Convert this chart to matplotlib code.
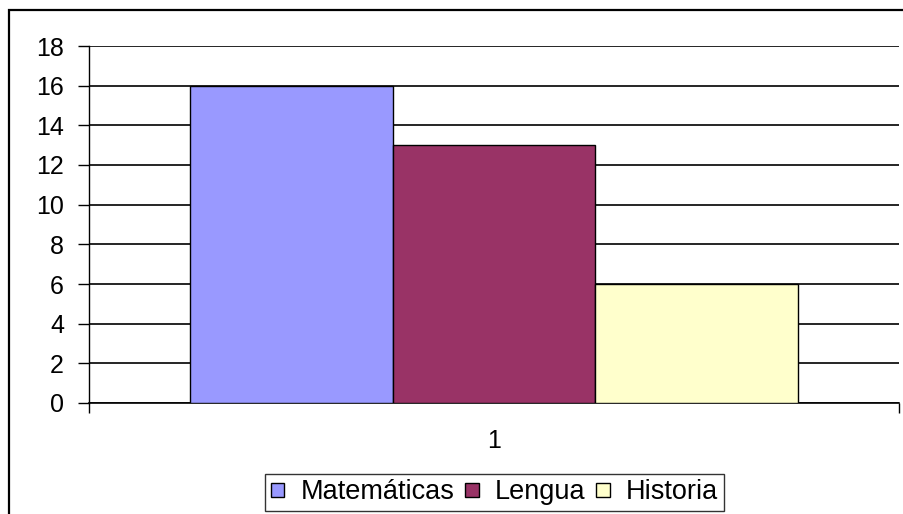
import matplotlib
matplotlib.use("Agg")
import matplotlib.pyplot as plt
from matplotlib.patches import Rectangle

plt.rcParams['font.family'] = ['Liberation Sans', 'DejaVu Sans']

series = ['Matemáticas', 'Lengua', 'Historia']
values = [16, 13, 6]
colors = ['#9999FF', '#993366', '#FFFFCC']
category = 1
yticks = list(range(0, 19, 2))

fig = plt.figure(figsize=(9.04, 5.14), dpi=100)
ax = fig.add_axes([89 / 904, 1 - 403 / 514, 810 / 904, 357 / 514])

width = 0.25
offsets = [-width, 0, width]
bars = []
for name, val, col, off in zip(series, values, colors, offsets):
    b = ax.bar(category + off, val, width=width, color=col, edgecolor='black',
               linewidth=1.0, label=name, zorder=3)
    bars.append(b)

ax.set_xlim(0.5, 1.5)
ax.set_ylim(0, 18)
ax.set_yticks(yticks)
ax.yaxis.grid(True, color='black', linewidth=1.2, zorder=0)
ax.tick_params(axis='y', direction='out', length=8, width=1.0, labelsize=18, pad=10)

ax.set_xticks([category])
ax.set_xticks([0.5, 1.5], minor=True)
ax.tick_params(axis='x', which='major', length=0, labelsize=18, pad=19)
ax.tick_params(axis='x', which='minor', direction='out', length=7, width=1.0)

for s in ['top', 'right']:
    ax.spines[s].set_visible(False)
ax.spines['left'].set_linewidth(1.0)
ax.spines['bottom'].set_linewidth(1.2)

leg = fig.legend(handles=bars, labels=series, loc='upper center',
                 bbox_to_anchor=(494.5 / 904, 1 - 474 / 514), ncol=3,
                 fontsize=19.5, frameon=True, fancybox=False,
                 handlelength=0.5, handleheight=0.4, handletextpad=0.6,
                 columnspacing=0.4, borderpad=0.2, borderaxespad=0)
leg.get_frame().set_edgecolor('black')
leg.get_frame().set_linewidth(1.0)

border = Rectangle((9 / 904, -0.1), 1.0, (514 - 10) / 514 + 0.1,
                   transform=fig.transFigure, fill=False, edgecolor='black',
                   linewidth=1.6)
fig.patches.append(border)

fig.savefig('out.png', dpi=100)
